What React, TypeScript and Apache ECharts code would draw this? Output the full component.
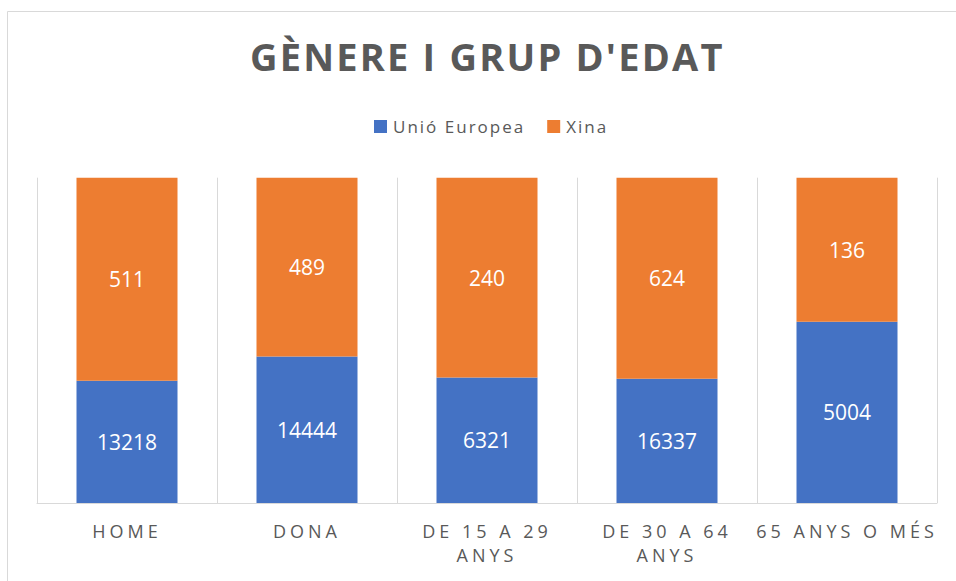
import React, { useEffect, useRef } from "react";
import * as echarts from "echarts";

const categories = ["HOME", "DONA", "DE 15 A 29 ANYS", "DE 30 A 64 ANYS", "65 ANYS O MÉS"];
const seriesNames = ["Unió Europea", "Xina"];
// bar heights as shown (share of the column, %)
const euShare = [37.6, 45.0, 38.6, 38.2, 55.7];
const xinaShare = [62.4, 55.0, 61.4, 61.8, 44.3];
// values printed on the bars
const euLabels = [13218, 14444, 6321, 16337, 5004];
const xinaLabels = [511, 489, 240, 624, 136];

const FONT = "Open Sans";

export default function App() {
  const ref = useRef<HTMLDivElement>(null);
  useEffect(() => {
    if (!ref.current) return;
    const chart = echarts.init(ref.current, undefined, { renderer: "svg" });
    chart.setOption({
      animation: false,
      backgroundColor: "#ffffff",
      title: {
        text: "GÈNERE I GRUP D'EDAT",
        left: 250,
        top: 37,
        padding: 0,
        textStyle: { fontFamily: FONT, fontSize: 38, fontWeight: "bold", color: "#595959", lineHeight: 38 },
      },
      legend: {
        left: 369,
        top: 113,
        itemWidth: 13,
        itemHeight: 13,
        itemGap: 46,
        icon: "rect",
        textStyle: { fontFamily: FONT, fontSize: 17, color: "#595959", padding: [0, 0, 0, 1] },
        data: seriesNames,
      },
      graphic: [
        {
          type: "rect",
          shape: { x: 7.5, y: 11.5, width: 1000, height: 1000 },
          style: { fill: "none", stroke: "#d9d9d9", lineWidth: 1 },
          silent: true,
          z: -10,
        },
      ],
      grid: { left: 37, right: 19, top: 177.7, bottom: 78, containLabel: false },
      xAxis: {
        type: "category",
        data: categories,
        axisLine: { show: true, lineStyle: { color: "#d9d9d9", width: 1 } },
        axisTick: { show: false },
        splitLine: { show: true, interval: 0, lineStyle: { color: "#d9d9d9", width: 1 } },
        axisLabel: {
          interval: 0,
          margin: 16,
          fontFamily: FONT,
          fontSize: 18,
          lineHeight: 24,
          color: "#595959",
          formatter: (v: string) => v.replace(/^(DE \d+ A \d+) /, "$1\n"),
        },
      },
      yAxis: { type: "value", min: 0, max: 100, show: false, splitLine: { show: false } },
      series: [
        {
          name: seriesNames[0],
          type: "bar",
          stack: "total",
          barWidth: 101,
          data: euShare,
          itemStyle: { color: "#4472C4" },
          label: {
            show: true,
            position: "inside",
            fontFamily: FONT,
            fontSize: 21,
            color: "#ffffff",
            formatter: (p: any) => String(euLabels[p.dataIndex]),
          },
        },
        {
          name: seriesNames[1],
          type: "bar",
          stack: "total",
          barWidth: 101,
          data: xinaShare,
          itemStyle: { color: "#ED7D31" },
          label: {
            show: true,
            position: "inside",
            fontFamily: FONT,
            fontSize: 21,
            color: "#ffffff",
            formatter: (p: any) => String(xinaLabels[p.dataIndex]),
          },
        },
      ],
    });
    return () => chart.dispose();
  }, []);
  return (
    <>
      <style>{`
        #chartbox text[style*="38px"] { letter-spacing: 2.2px; }
        #chartbox text[style*="18px"] { letter-spacing: 4px; }
        #chartbox text[style*="17px"] { letter-spacing: 2px; }
      `}</style>
      <div
        id="chartbox"
        ref={ref}
        style={{ position: "fixed", left: 0, top: 0, width: 956, height: 581 }}
      />
    </>
  );
}
